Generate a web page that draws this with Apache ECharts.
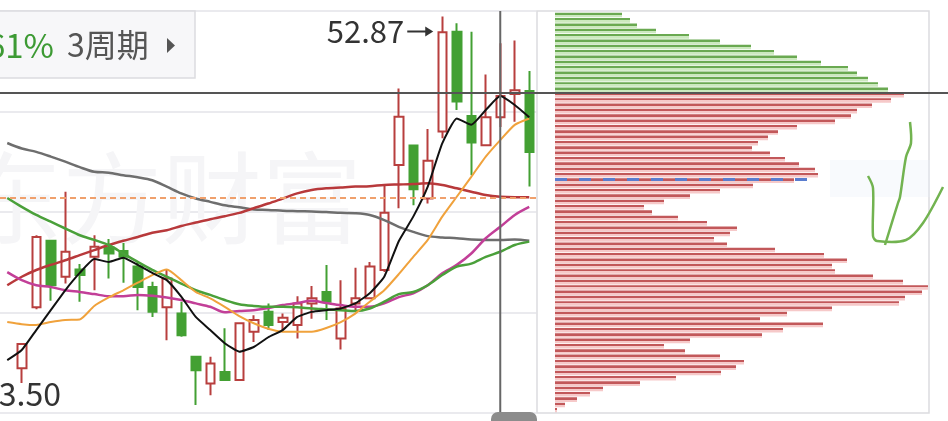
<!DOCTYPE html>
<html><head><meta charset="utf-8">
<script src="https://cdn.jsdelivr.net/npm/echarts@6/dist/echarts.min.js"></script>
<style>html,body{margin:0;padding:0;background:#fff;overflow:hidden}#c{width:948px;height:421px}</style>
</head><body><div id="c"></div>
<script>
// ---- data ----
const periods = Array.from({length: 37}, (_, i) => 'K' + (i + 1));
// [open, close, low, high]; first period is only partly visible (MA lines only)
const candles = [
  ['-','-','-','-'],
  [44.56, 45.13, 44.21, 45.15],
  [46.00, 47.66, 45.95, 47.70],
  [47.57, 46.52, 46.15, 47.59],
  [46.72, 47.31, 46.56, 48.73],
  [46.89, 46.76, 46.13, 47.02],
  [47.19, 47.43, 46.40, 47.70],
  [47.41, 47.27, 46.68, 47.61],
  [47.33, 47.19, 46.58, 47.52],
  [46.96, 46.48, 45.93, 47.07],
  [46.48, 45.89, 45.77, 46.60],
  [46.00, 46.68, 45.22, 46.88],
  [45.85, 45.34, 45.30, 46.13],
  [44.83, 44.51, 43.69, 44.83],
  [44.20, 44.67, 43.92, 44.83],
  [44.47, 44.28, 44.28, 45.50],
  [44.28, 45.62, 44.26, 45.64],
  [45.42, 45.70, 45.18, 45.81],
  [45.89, 45.58, 45.46, 46.09],
  [45.65, 45.75, 45.46, 45.85],
  [45.58, 46.09, 45.26, 46.26],
  [46.09, 46.21, 45.73, 46.50],
  [46.36, 46.13, 45.70, 47.00],
  [45.26, 45.97, 45.00, 46.64],
  [46.09, 46.21, 45.93, 46.93],
  [46.21, 46.96, 46.21, 47.07],
  [46.88, 48.23, 46.83, 48.91],
  [49.36, 50.50, 48.34, 51.17],
  [49.82, 48.79, 48.41, 49.82],
  [48.57, 49.46, 48.45, 50.21],
  [50.15, 52.50, 49.99, 52.87],
  [52.51, 50.86, 50.66, 52.71],
  [50.52, 49.89, 49.12, 52.51],
  [49.83, 50.49, 49.83, 51.50],
  [50.49, 50.99, 50.26, 52.24],
  [51.04, 51.13, 50.38, 52.30],
  [51.11, 49.67, 48.85, 51.58]
];
const ma5 = [44.75,44.99,45.46,45.93,46.40,46.81,47.14,47.07,47.17,47.00,46.81,46.64,46.25,45.77,45.46,45.15,44.95,45.06,45.29,45.46,45.77,45.89,45.93,45.97,46.09,46.33,46.72,47.56,48.14,48.85,49.87,50.46,50.31,50.66,50.99,50.78,50.49];
const ma10 = [45.65,45.60,45.58,45.65,45.70,45.71,46.03,46.23,46.40,46.58,46.76,46.89,46.64,46.36,46.21,46.01,45.79,45.62,45.49,45.42,45.42,45.42,45.51,45.65,45.85,46.13,46.40,46.78,47.19,47.59,48.14,48.61,49.08,49.56,49.95,50.31,50.46];
const ma20 = [48.58,48.37,48.18,48.02,47.86,47.70,47.59,47.47,47.27,47.07,46.88,46.72,46.56,46.40,46.29,46.17,46.07,46.03,46.01,46.01,46.00,45.97,45.95,45.93,45.91,45.97,46.13,46.31,46.36,46.52,46.76,46.96,47.03,47.19,47.31,47.47,47.55];
const ma30 = [46.83,46.64,46.52,46.48,46.40,46.36,46.31,46.26,46.26,46.29,46.27,46.23,46.17,46.09,46.01,45.88,45.91,45.93,45.98,46.05,46.10,46.15,46.10,46.05,46.01,46.01,46.09,46.24,46.33,46.52,46.80,47.00,47.27,47.63,47.90,48.18,48.37];
const ma60 = [46.52,46.72,46.88,47.00,47.11,47.23,47.35,47.47,47.57,47.66,47.76,47.82,47.92,48.00,48.08,48.15,48.23,48.34,48.45,48.57,48.69,48.77,48.81,48.83,48.85,48.86,48.89,48.90,48.91,48.93,48.89,48.81,48.73,48.65,48.61,48.60,48.60];
const ma120 = [49.88,49.75,49.67,49.56,49.44,49.31,49.20,49.18,49.12,49.07,49.00,48.85,48.69,48.57,48.49,48.41,48.36,48.31,48.30,48.28,48.27,48.26,48.25,48.23,48.22,48.18,48.06,47.90,47.78,47.68,47.65,47.63,47.60,47.59,47.59,47.60,47.57];
// chip distribution (top price level first)
const profitVol = [67,75,82,101,134,165,196,219,242,266,293,302,313,323,333];
const lossVol = [349,336,317,302,296,280,242,223,213,203,197,215,230,244,260,263,239,198,165,135,109,
  89,97,123,152,182,175,159,172,220,269,292,277,280,318,348,373,367,350,344,277,232,205,268,228,207,135,109,130,165,189,181,166,121,85,48,35,22,10,2];
const priceMin = 43.5, priceMax = 53.0;
const highPrice = 52.87, lowText = '43.50';
const crossPrice = 51.06, crossIndex = 34;
const avgCostLeft = 48.58, avgCostRight = 49.02, avgCostRightLen = 252;
const pctText = '61%', periodText = '3周期';
const watermark = '东方财富';

// ---- chart ----
const levels = Array.from({length: profitVol.length + lossVol.length}, (_, i) => 'L' + i);
const greenData = profitVol.concat(lossVol.map(() => '-'));
const redData = profitVol.map(() => '-').concat(lossVol);
const FONT = '"Noto Sans CJK SC", "Noto Sans", sans-serif';
const grad = (a, b) => ({type:'linear', x:0, y:0, x2:0, y2:1, colorStops:[
  {offset:0, color:a},{offset:0.5, color:a},{offset:0.5, color:b},{offset:1, color:b}]});
const maLine = (data, color, w, smooth) => ({
  type:'line', xAxisIndex:0, yAxisIndex:0, data, showSymbol:false, smooth,
  lineStyle:{color, width:w}, itemStyle:{color}, silent:true
});

const chart = echarts.init(document.getElementById('c'), null, {renderer:'canvas'});
chart.setOption({
  animation:false,
  backgroundColor:'#ffffff',
  grid:[
    {left:-18.5, top:11, width:555, height:402},
    {left:555, top:12.33, width:375, height:400.67}
  ],
  xAxis:[
    {type:'category', gridIndex:0, data:periods, boundaryGap:true, show:false},
    {type:'value', gridIndex:1, min:0, max:375, show:false}
  ],
  yAxis:[
    {type:'value', gridIndex:0, min:priceMin, max:priceMax, show:false},
    {type:'value', gridIndex:0, min:0, max:4, interval:1, axisLine:{show:false}, axisTick:{show:false},
     axisLabel:{show:false}, splitLine:{show:true, lineStyle:{color:'#e3e3e8', width:1.5}}},
    {type:'category', gridIndex:1, data:levels, inverse:true, show:false}
  ],
  series:[
    {type:'candlestick', xAxisIndex:0, yAxisIndex:0, data:candles, barWidth:9, silent:true,
     itemStyle:{color:'#ffffff', color0:'#43a033', borderColor:'#b83f3e', borderColor0:'#43a033', borderWidth:2},
     markLine:{silent:true, symbol:'none', label:{show:false},
       lineStyle:{color:'#f0a06c', width:2, type:[6,4]}, data:[{yAxis:avgCostLeft}]}},
    maLine(ma120, '#6e6e6e', 2.5, 0.3),
    maLine(ma60, '#b8393b', 2.5, 0.3),
    maLine(ma30, '#c23f98', 2.5, 0.3),
    maLine(ma20, '#4aa03a', 2.5, 0.3),
    maLine(ma10, '#f0a23c', 2, 0.2),
    maLine(ma5, '#111111', 2, 0.15),
    {type:'bar', xAxisIndex:1, yAxisIndex:2, data:greenData, barWidth:4.6, barGap:'-100%', silent:true,
     itemStyle:{color:grad('#6aa951', '#cce9bf')}},
    {type:'bar', xAxisIndex:1, yAxisIndex:2, data:redData, barWidth:4.6, barGap:'-100%', silent:true,
     itemStyle:{color:grad('#c2585a', '#f6c9c9')}}
  ]
});

const px = i => chart.convertToPixel({xAxisIndex:0}, periods[i]);
const py = v => chart.convertToPixel({yAxisIndex:0}, v);
let hiIdx = 0;
candles.forEach((c, i) => { if (c[3] === highPrice) hiIdx = i; });
const hx = px(hiIdx), hy = py(highPrice);
const tipX = hx - 9, tipY = hy + 15;
const crossY = py(crossPrice), crossX = px(crossIndex);
const topY = py(priceMax), botY = py(priceMin);
const avgY = py(avgCostRight);
const avgX2 = chart.convertToPixel({xAxisIndex:1}, avgCostRightLen);

chart.setOption({graphic:[
  {type:'text', z:0, silent:true, style:{text:watermark, x:-38, y:148, font:'100px ' + FONT, fill:'#f5f5f7'}},
  {type:'rect', z:50, silent:true, shape:{x:-2, y:topY, width:197, height:67}, style:{fill:'#f7f7f9', stroke:'#dcdcdf', lineWidth:1.5}},
  {type:'text', z:51, silent:true, style:{text:pctText, x:54, y:45, align:'right', verticalAlign:'middle', font:'33px ' + FONT, fill:'#3d9a34'}},
  {type:'text', z:51, silent:true, style:{text:periodText, x:67, y:45, align:'left', verticalAlign:'middle', font:'32px ' + FONT, fill:'#555555'}},
  {type:'polygon', z:51, silent:true, shape:{points:[[167,38],[175,45.5],[167,53]]}, style:{fill:'#555555'}},
  {type:'text', z:51, silent:true, style:{text:highPrice.toFixed(2), x:tipX - 29, y:tipY, align:'right', verticalAlign:'middle', font:'31px ' + FONT, fill:'#333333'}},
  {type:'line', z:51, silent:true, shape:{x1:tipX - 26, y1:tipY, x2:tipX - 4, y2:tipY}, style:{stroke:'#333333', lineWidth:2}},
  {type:'polygon', z:51, silent:true, shape:{points:[[tipX - 8, tipY - 5],[tipX, tipY],[tipX - 8, tipY + 5]]}, style:{fill:'#333333'}},
  {type:'text', z:51, silent:true, style:{text:lowText, x:-19, y:botY - 19, align:'left', verticalAlign:'middle', font:'32px ' + FONT, fill:'#333333'}},
  {type:'rect', z:40, silent:true, shape:{x:537, y:topY, width:392, height:botY - topY}, style:{fill:null, stroke:'#dcdcdf', lineWidth:1.5}},
  {type:'rect', z:41, silent:true, shape:{x:830, y:160, width:100, height:37}, style:{fill:'rgba(232,238,250,0.3)'}},
  {type:'line', z:60, silent:true, shape:{x1:555, y1:avgY, x2:avgX2, y2:avgY}, style:{stroke:'#5a7dcf', lineWidth:3, lineDash:[12,12]}},
  {type:'line', z:70, silent:true, shape:{x1:crossX, y1:topY, x2:crossX, y2:botY}, style:{stroke:'#666666', lineWidth:2}},
  {type:'line', z:70, silent:true, shape:{x1:0, y1:crossY, x2:948, y2:crossY}, style:{stroke:'#555555', lineWidth:2}},
  {type:'rect', z:70, silent:true, shape:{x:491, y:botY - 1, width:46, height:14, r:[7,7,0,0]}, style:{fill:'#8c8c8c'}},
  {type:'polyline', z:80, silent:true, shape:{points:[[910,122],[911,143],[906,157],[900,197],[898,203],[885,245]], smooth:0.3}, style:{stroke:'#72b350', lineWidth:2.5, fill:null}},
  {type:'polyline', z:80, silent:true, shape:{points:[[868,176],[873,188],[873,236],[877,241],[906,240],[923,223],[943,187]], smooth:0.3}, style:{stroke:'#72b350', lineWidth:2.5, fill:null}}
]});
</script>
</body></html>
